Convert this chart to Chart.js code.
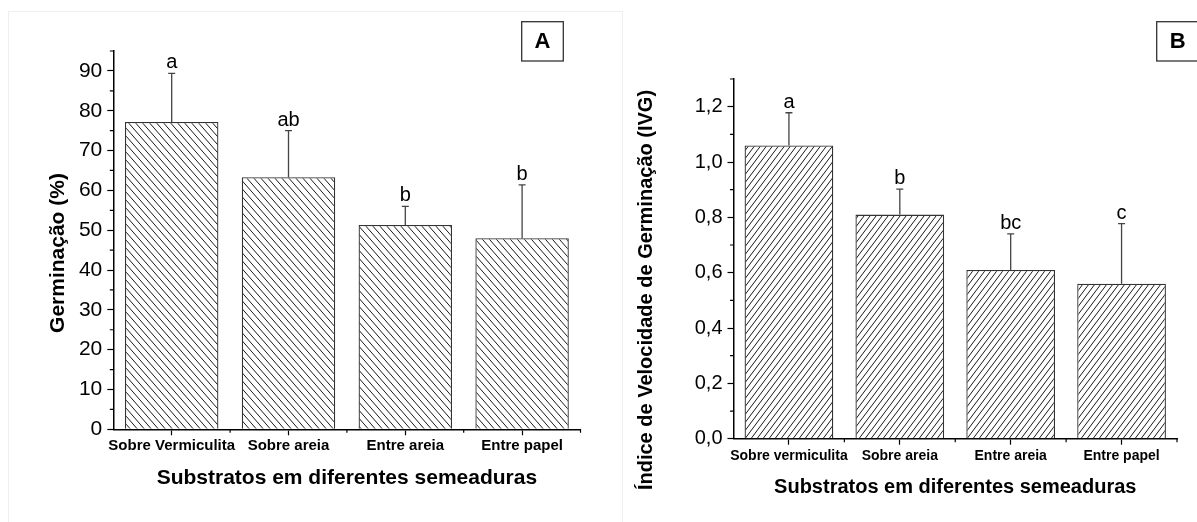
<!DOCTYPE html>
<html lang="pt">
<head>
<meta charset="UTF-8">
<title>Germinação e IVG por substrato</title>
<script src="https://cdn.jsdelivr.net/npm/chart.js@4.4.1/dist/chart.umd.min.js"></script>
<style>
    body { margin: 0; background: #fff; }
    .wrap { position: relative; width: 1197px; height: 522px; overflow: hidden; }
    .frame {
        position: absolute; left: 8px; top: 11px; width: 613px; height: 520px;
        border: 1px solid #efefef; border-bottom: none;
    }
    #chartA { position: absolute; left: 0; top: 0; }
    #chartB { position: absolute; left: 600px; top: 0; }
</style>
</head>
<body>
<div class="wrap">
    <div class="frame"></div>
    <canvas id="chartA" width="600" height="522"></canvas>
    <canvas id="chartB" width="597" height="522"></canvas>
</div>

<script>
// --- data ---
const categoriesA = ['Sobre Vermiculita', 'Sobre areia', 'Entre areia', 'Entre papel'];
const categoriesB = ['Sobre vermiculita', 'Sobre areia', 'Entre areia', 'Entre papel'];

const germinacao = [77.2, 63.3, 51.3, 48.0];
const germinacaoErr = [12.2, 11.7, 4.7, 13.4];
const lettersA = ['a', 'ab', 'b', 'b'];

const ivg = [1.06, 0.81, 0.61, 0.56];
const ivgErr = [0.118, 0.092, 0.13, 0.217];
const lettersB = ['a', 'b', 'bc', 'c'];

const yTicksA = [0, 10, 20, 30, 40, 50, 60, 70, 80, 90];
const yLabelsA = ['0', '10', '20', '30', '40', '50', '60', '70', '80', '90'];
const yTicksB = [0, 0.2, 0.4, 0.6, 0.8, 1.0, 1.2];
const yLabelsB = ['0,0', '0,2', '0,4', '0,6', '0,8', '1,0', '1,2'];

const FONT = "'Liberation Sans', Arial, Helvetica, sans-serif";

// hatch fill: dir 1 = '/', dir -1 = '\'
function hatch(w, h, dir) {
    const c = document.createElement('canvas');
    c.width = w; c.height = h;
    const g = c.getContext('2d');
    g.fillStyle = '#fff';
    g.fillRect(0, 0, w, h);
    g.strokeStyle = '#1a1a1a';
    g.lineWidth = 1;
    g.beginPath();
    for (const k of [-1, 0, 1]) {
        if (dir > 0) { g.moveTo(k * w, h); g.lineTo(k * w + w, 0); }
        else { g.moveTo(k * w, 0); g.lineTo(k * w + w, h); }
    }
    g.stroke();
    return g.createPattern(c, 'repeat');
}

// error bars, letters, minor ticks, y title, panel tag
const extras = {
    id: 'extras',
    afterDraw(chart, args, o) {
        const ctx = chart.ctx;
        const xs = chart.scales.x, ys = chart.scales.y;
        const area = chart.chartArea;
        const vals = chart.data.datasets[0].data;
        const meta = chart.getDatasetMeta(0);
        ctx.save();

        meta.data.forEach((bar, i) => {
            const base = ys.getPixelForValue(vals[i]);
            const top = ys.getPixelForValue(vals[i] + o.err[i]);
            ctx.strokeStyle = '#444';
            ctx.lineWidth = 1.3;
            ctx.beginPath();
            ctx.moveTo(bar.x, base); ctx.lineTo(bar.x, top);
            ctx.moveTo(bar.x - 3.5, top); ctx.lineTo(bar.x + 3.5, top);
            ctx.stroke();
            ctx.fillStyle = '#000';
            ctx.font = '20px ' + FONT;
            ctx.textAlign = 'center';
            ctx.textBaseline = 'alphabetic';
            ctx.fillText(o.letters[i], bar.x, top - 5);
        });

        // minor ticks
        ctx.strokeStyle = '#000';
        ctx.lineWidth = 1.2;
        ctx.beginPath();
        for (let k = 0; (k + 0.5) * o.step <= ys.max + 1e-9; k++) {
            const py = ys.getPixelForValue((k + 0.5) * o.step);
            ctx.moveTo(area.left - 3.5, py); ctx.lineTo(area.left, py);
        }
        for (let i = 1; i <= vals.length; i++) {
            const px = xs.getPixelForValue(i - 0.5);
            ctx.moveTo(px, area.bottom); ctx.lineTo(px, area.bottom + 3.5);
        }
        ctx.stroke();

        // y title
        ctx.save();
        ctx.translate(o.yTitleX, o.yTitleY);
        ctx.rotate(-Math.PI / 2);
        ctx.fillStyle = '#000';
        ctx.font = 'bold ' + o.titleSize + 'px ' + FONT;
        ctx.textAlign = 'center';
        ctx.textBaseline = 'middle';
        ctx.fillText(o.yTitle, 0, 0);
        ctx.restore();

        // panel tag
        const t = o.tag;
        ctx.strokeStyle = '#333';
        ctx.lineWidth = 1.3;
        ctx.strokeRect(t.x, t.y, t.w, t.h);
        ctx.fillStyle = '#000';
        ctx.font = 'bold 22px ' + FONT;
        ctx.textAlign = 'center';
        ctx.textBaseline = 'middle';
        ctx.fillText(t.text, t.cx, t.y + t.h / 2 + 1);

        ctx.restore();
    }
};

function makeChart(id, c) {
    return new Chart(document.getElementById(id), {
        type: 'bar',
        data: {
            labels: c.labels,
            datasets: [{
                data: c.values,
                backgroundColor: c.fill,
                borderColor: '#333',
                borderWidth: 1.3,
                barPercentage: 0.8,
                categoryPercentage: 1
            }]
        },
        options: {
            responsive: false,
            animation: false,
            layout: { padding: c.padding },
            plugins: {
                legend: { display: false },
                tooltip: { enabled: false },
                extras: c.extras
            },
            scales: {
                x: {
                    offset: true,
                    grid: { drawOnChartArea: false, offset: false, tickLength: 6, tickColor: '#000', tickWidth: 1.2 },
                    border: { color: '#000', width: 1.5 },
                    ticks: {
                        color: '#000', autoSkip: false, maxRotation: 0, padding: c.xTickPad,
                        font: { family: FONT, size: c.xTickSize, weight: 'bold' }
                    },
                    title: {
                        display: true, text: 'Substratos em diferentes semeaduras', color: '#000',
                        font: { family: FONT, size: c.titleSize, weight: 'bold' },
                        padding: { top: 0, bottom: c.xTitlePad }
                    },
                    afterFit(s) { s.height = c.xHeight; }
                },
                y: {
                    min: 0,
                    max: c.yMax,
                    afterBuildTicks(s) { s.ticks = c.yTicks.map(v => ({ value: v })); },
                    grid: { drawOnChartArea: false, tickLength: 6, tickColor: '#000', tickWidth: 1.2 },
                    border: { color: '#000', width: 1.5 },
                    ticks: {
                        color: '#000', padding: 5,
                        font: { family: FONT, size: c.yTickSize },
                        callback: (v, i) => c.yLabels[i]
                    },
                    afterFit(s) { s.width = c.yWidth; }
                }
            }
        },
        plugins: [extras]
    });
}

// Panel A
makeChart('chartA', {
    labels: categoriesA,
    values: germinacao,
    fill: hatch(7, 8, -1),
    padding: { left: 0, top: 51, right: 19.5, bottom: 0 },
    yMax: 95,
    yTicks: yTicksA,
    yLabels: yLabelsA,
    yTickSize: 21,
    yWidth: 113.3,
    xHeight: 92.7,
    xTickSize: 15,
    xTickPad: 2,
    titleSize: 21,
    xTitlePad: 31,
    extras: {
        err: germinacaoErr, letters: lettersA, step: 10,
        yTitle: 'Germinação (%)', yTitleX: 58, yTitleY: 253, titleSize: 21,
        tag: { x: 521.7, y: 21.7, w: 41.6, h: 39.3, cx: 542.5, text: 'A' }
    }
});

// Panel B
makeChart('chartB', {
    labels: categoriesB,
    values: ivg,
    fill: hatch(6, 8, 1),
    padding: { left: 0, top: 79, right: 20, bottom: 0 },
    yMax: 1.3,
    yTicks: yTicksB,
    yLabels: yLabelsB,
    yTickSize: 20,
    yWidth: 133.5,
    xHeight: 83.3,
    xTickSize: 14,
    xTickPad: 3,
    titleSize: 20,
    xTitlePad: 23,
    extras: {
        err: ivgErr, letters: lettersB, step: 0.2,
        yTitle: 'Índice de Velocidade de Germinação (IVG)', yTitleX: 46.5, yTitleY: 290, titleSize: 20,
        tag: { x: 556.7, y: 21.7, w: 50, h: 39.3, cx: 577.7, text: 'B' }
    }
});
</script>
</body>
</html>
